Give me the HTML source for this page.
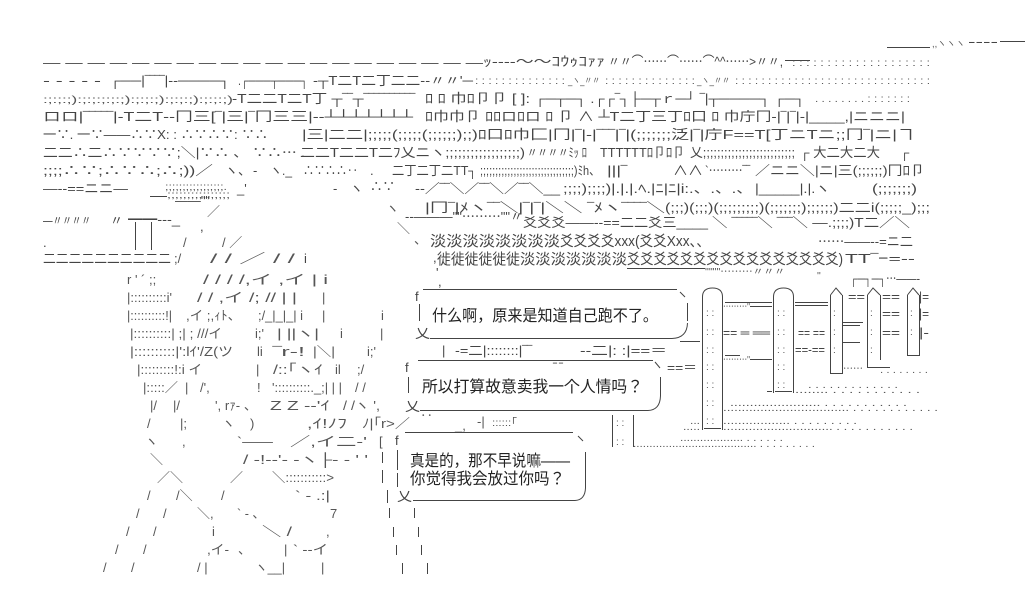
<!DOCTYPE html>
<html><head><meta charset="utf-8">
<style>
html,body{margin:0;padding:0;background:#fff;}
svg{display:block}
text{font-family:"Liberation Sans","Noto Sans CJK JP",sans-serif;font-size:13px;fill:#444;}
.d{font-size:10px;fill:#555}
.c{font-size:15px}
.b{font-size:16px;fill:#222}
.f{fill:#555}
path{stroke:#444;stroke-width:1;fill:none}
</style></head><body>
<svg width="1036" height="604" viewBox="0 0 1036 604" xmlns="http://www.w3.org/2000/svg">
<rect width="1036" height="604" fill="#fff" style="stroke:none"/>

<!-- row 0 -->
<path d="M887 47.5H930M1000 41.5H1025"/>
<text x="932" y="47" textLength="33" lengthAdjust="spacingAndGlyphs" class="d">,,ヽヽヽ</text>
<text x="968" y="46" textLength="30" lengthAdjust="spacingAndGlyphs">‐‐‐‐</text>

<!-- row 1 -->
<text x="43" y="67" textLength="440" lengthAdjust="spacingAndGlyphs">— — — — — — — — — — — — — — — — — — — —</text>
<text x="483" y="66" textLength="122" lengthAdjust="spacingAndGlyphs">ｯ‐‐‐‐～～ｺｳｩｺｧｧ</text>
<text x="608" y="66" textLength="175" lengthAdjust="spacingAndGlyphs">〃〃⌒⋯⋯⌒⋯⋯⌒^^⋯⋯&gt;〃〃,</text>
<path d="M785 60.5H810"/>
<text x="792" y="66" textLength="138" lengthAdjust="spacingAndGlyphs" class="d">: : : : : : : : : : : : : : : : : : : :</text>

<!-- row 2 -->
<text x="43" y="85" textLength="58" lengthAdjust="spacingAndGlyphs">- - - - -</text>
<text x="110" y="85" textLength="120" lengthAdjust="spacingAndGlyphs">┌──|‾‾‾‾|‐‐────┐</text>
<text x="238" y="85" textLength="70" lengthAdjust="spacingAndGlyphs">.┌───┬───┐</text>
<text x="313" y="85" textLength="160" lengthAdjust="spacingAndGlyphs">‐┬T二T二丁二二‐‐〃〃'─</text>
<text x="475" y="84" textLength="90" lengthAdjust="spacingAndGlyphs" class="d">: : : : : : : : : : : : : :</text>
<text x="568" y="84" textLength="32" lengthAdjust="spacingAndGlyphs" class="d">_ヽ_〃〃</text>
<text x="605" y="84" textLength="90" lengthAdjust="spacingAndGlyphs" class="d">: : : : : : : : : : : : : :</text>
<text x="697" y="84" textLength="33" lengthAdjust="spacingAndGlyphs" class="d">_ヽ_〃〃</text>
<text x="735" y="84" textLength="195" lengthAdjust="spacingAndGlyphs" class="d">: : : : : : : : : : : : : : : : : : : : : : : : : : : : : :</text>

<!-- row 3 -->
<text x="43" y="103" textLength="190" lengthAdjust="spacingAndGlyphs" class="d">:;:;:;):;:;:;:;:;):;:;:;):;:;:;):;:;:;)</text>
<text x="232" y="103" textLength="183" lengthAdjust="spacingAndGlyphs">‐T二二T二T丁 ┬‾‾┬‾‾‾‾‾‾‾‾‾‾</text>
<text x="425" y="103" textLength="105" lengthAdjust="spacingAndGlyphs">ﾛ ﾛ 巾ﾛ卩卩 [ ]:</text>
<text x="535" y="103" textLength="270" lengthAdjust="spacingAndGlyphs">┌─┬─┐ .┌┌‾┐├─┬ｒ─┘  ‾|┬────┐ ┌─┐</text>
<text x="815" y="102" textLength="95" lengthAdjust="spacingAndGlyphs" class="d">. . . . . . . . : : : : : : :</text>

<!-- row 4 -->
<text x="43" y="121" textLength="370" lengthAdjust="spacingAndGlyphs">ロロ|‾‾‾‾‾|‐T二T‐‐冂三[‾|三|‾冂三三|‐‐┴┴┴┴┴┴┴</text>
<text x="425" y="121" textLength="480" lengthAdjust="spacingAndGlyphs">ﾛ巾巾卩 ﾛﾛロﾛロ ﾛ 卩 ∧ ┴T二丁三丁ﾛ口 ﾛ 巾庁冂‐|‾|‾|‐|____,|ニニニ|</text>

<!-- row 5 -->
<text x="43" y="139" textLength="225" lengthAdjust="spacingAndGlyphs">一∵. 一∵——∴∵X: : ∴∵∴∵: ∵∴</text>
<text x="302" y="139" textLength="228" lengthAdjust="spacingAndGlyphs">|三|二二|;;;;;(;;;;;(;;;;;;);;)ﾛ口ﾛ巾</text>
<text x="530" y="139" textLength="385" lengthAdjust="spacingAndGlyphs">匚|冂|‾|‐|‾‾‾|‾|(;;;;;;;泛|‾|庁F==T[丁ニTニ;;冂‾|ニ|ヿ</text>

<!-- row 6 -->
<text x="43" y="157" textLength="262" lengthAdjust="spacingAndGlyphs">二二∴二∴∵∵∵∵;＼|∵∴ 、  ∵∴⋯ .</text>
<text x="300" y="157" textLength="225" lengthAdjust="spacingAndGlyphs">二二T二二T二ﾌ乂ニヽ;;;;;;;;;;;;;;;;;;)</text>
<text x="527" y="157" textLength="60" lengthAdjust="spacingAndGlyphs">〃〃〃〃ﾐｯ ﾛ</text>
<text x="600" y="157" textLength="85" lengthAdjust="spacingAndGlyphs">TTTTTTﾛ卩ﾛ卩</text>
<text x="690" y="157" textLength="105" lengthAdjust="spacingAndGlyphs">乂;;;;;;;;;;;;;;;;;;;;;;;;;;</text>
<text x="800" y="157" textLength="80" lengthAdjust="spacingAndGlyphs">┌ 大二大二大</text>
<text x="900" y="157">┌</text>

<!-- row 7 -->
<text x="43" y="175" textLength="170" lengthAdjust="spacingAndGlyphs">;;;;∴∵;∴∵∴;∴;))／</text>
<text x="225" y="175">ヽ、</text>
<text x="253" y="175">‐</text>
<text x="270" y="175" textLength="22" lengthAdjust="spacingAndGlyphs">ヽ._</text>
<text x="303" y="175" textLength="55" lengthAdjust="spacingAndGlyphs">∴∵∴∴‥</text>
<text x="370" y="175">.</text>
<text x="392" y="175" textLength="85" lengthAdjust="spacingAndGlyphs">二丁二丁二TT┐</text>
<text x="480" y="175" textLength="120" lengthAdjust="spacingAndGlyphs">;;;;;;;;;;;;;;;;;;;;;;;;;;;;;;;)ﾐh、</text>
<text x="607" y="175" textLength="20" lengthAdjust="spacingAndGlyphs">|||‾</text>
<text x="673" y="175" textLength="30" lengthAdjust="spacingAndGlyphs">∧∧</text>
<text x="705" y="175" textLength="45" lengthAdjust="spacingAndGlyphs">`⋯⋯⋯‾‾</text>
<text x="755" y="175" textLength="170" lengthAdjust="spacingAndGlyphs">／ニニ＼|ニ|三(;;;;;;)冂ﾛ卩</text>

<!-- row 8 -->
<text x="43" y="193" textLength="85" lengthAdjust="spacingAndGlyphs">—‐‐==ニニ—</text>
<text x="165" y="190" textLength="62" lengthAdjust="spacingAndGlyphs" class="d">;;;;;;;;;;;;;;;;;.</text>
<text x="237" y="193">_'</text>
<text x="333" y="193">‐</text>
<text x="350" y="193">ヽ</text>
<text x="370" y="191" textLength="25" lengthAdjust="spacingAndGlyphs">∴∵</text>
<text x="415" y="193" textLength="145" lengthAdjust="spacingAndGlyphs">‐‐／‾‾＼／‾‾＼／‾‾＼__</text>
<text x="563" y="193" textLength="190" lengthAdjust="spacingAndGlyphs">;;;;);;;;)|.|.|.ﾍ.|ﾆ|ﾆ|i:.、.、.、</text>
<text x="755" y="193" textLength="75" lengthAdjust="spacingAndGlyphs">|_____|.|.ヽ</text>
<text x="872" y="193" textLength="45" lengthAdjust="spacingAndGlyphs">(;;;;;;;)</text>

<!-- row 8.5 -->
<path d="M150 196.5H167"/>
<text x="167" y="198" textLength="63" lengthAdjust="spacingAndGlyphs" class="d">;;;;;;;;;;;;;;;;</text>
<text x="175" y="205" textLength="35" lengthAdjust="spacingAndGlyphs">——""</text>

<!-- row 9 -->
<text x="207" y="216" class="f">／</text>
<text x="425" y="212" textLength="240" lengthAdjust="spacingAndGlyphs">|冂‾|ﾒヽ‾‾＼|‾|‾|＼＼  ‾ﾒヽ‾‾‾‾＼</text>
<text x="665" y="212" textLength="265" lengthAdjust="spacingAndGlyphs">(;;;)(;;;)(;;;;;;;;;)(;;;;;;;);;;;;;)二二i(;;;;;_);;;</text>

<!-- row 10 -->
<text x="43" y="225" textLength="48" lengthAdjust="spacingAndGlyphs">—〃〃〃〃</text>
<text x="110" y="225">〃</text>
<text x="128" y="224" textLength="52" lengthAdjust="spacingAndGlyphs">━━‐‐‐_</text>
<text x="200" y="231">,</text>
<text x="386" y="213" class="f">ヽ</text>
<text x="397" y="233" class="f">＼</text>
<text x="414" y="244" class="f">、</text>
<text x="433" y="262">,</text>
<text x="436" y="277">'</text>
<text x="438" y="286">,</text>
<text x="405" y="221" textLength="118" lengthAdjust="spacingAndGlyphs">‐‐———""⋯⋯⋯""〃</text>
<text x="523" y="227" textLength="185" lengthAdjust="spacingAndGlyphs">爻爻爻——‐‐==二二爻三____</text>
<text x="712" y="227" textLength="198" lengthAdjust="spacingAndGlyphs">＼ ‾‾‾‾‾＼ ‾‾‾＼ —.;;;;)T二／＼</text>

<!-- row 11 -->
<path d="M135.5 222V250M151.5 222V250"/>
<text x="43" y="247">.</text>
<text x="183" y="247" class="f">/</text>
<text x="222" y="247" class="f">/ ／</text>
<text x="430" y="246" textLength="130" lengthAdjust="spacingAndGlyphs" class="c">淡淡淡淡淡淡淡淡</text>
<text x="560" y="246" textLength="150" lengthAdjust="spacingAndGlyphs" class="c">爻爻爻爻xxx(爻爻Xxx、、</text>
<text x="818" y="246" textLength="95" lengthAdjust="spacingAndGlyphs">⋯⋯——‐‐=ニ二</text>

<!-- row 12 -->
<text x="43" y="263" textLength="128" lengthAdjust="spacingAndGlyphs">二二二二二二二二二二</text>
<text x="174" y="263" class="f">;/</text>
<text x="210" y="263" textLength="85" lengthAdjust="spacingAndGlyphs" class="f">/  / ／ / /</text>
<text x="304" y="263">i</text>
<text x="437" y="264" textLength="83" lengthAdjust="spacingAndGlyphs" class="c">徙徙徙徙徙徙</text>
<text x="520" y="264" textLength="107" lengthAdjust="spacingAndGlyphs" class="c">淡淡淡淡淡淡淡</text>
<text x="627" y="264" textLength="216" lengthAdjust="spacingAndGlyphs" class="c">爻爻爻爻爻爻爻爻爻爻爻爻爻爻爻爻)</text>
<text x="845" y="263" textLength="70" lengthAdjust="spacingAndGlyphs">TT‾ｰ=‐‐</text>
<path d="M627 268.5H705"/>
<text x="705" y="275" textLength="80" lengthAdjust="spacingAndGlyphs" class="d">""""⋯⋯⋯〃〃〃</text>
<text x="817" y="279" class="d">''</text>
<text x="850" y="283" textLength="70" lengthAdjust="spacingAndGlyphs">┌─┐─┐⋯——‐</text>

<!-- figure rows -->
<g class="f">
<text x="127" y="284" class="f">r  '  ´  ;;</text>
<text x="203" y="284" textLength="125" lengthAdjust="spacingAndGlyphs" class="f">/ /   / /,イ ,イ   |   i</text>

<text x="127" y="302" textLength="45" lengthAdjust="spacingAndGlyphs" class="f">|::::::::::i'</text>
<text x="197" y="302" textLength="100" lengthAdjust="spacingAndGlyphs" class="f">/ / ,イ /; // |  |</text>
<text x="322" y="302" class="f">|</text>

<text x="127" y="320" textLength="45" lengthAdjust="spacingAndGlyphs" class="f">|::::::::::!|</text>
<text x="186" y="320" textLength="55" lengthAdjust="spacingAndGlyphs" class="f">,イ ;,ｨﾄ、</text>
<text x="258" y="320" textLength="45" lengthAdjust="spacingAndGlyphs" class="f">;/_|_|_| i</text>
<text x="322" y="320" class="f">|</text>
<text x="381" y="320" class="f">i</text>

<text x="130" y="338" textLength="92" lengthAdjust="spacingAndGlyphs" class="f">|::::::::::| ;| ; ///イ</text>
<text x="255" y="338" class="f">i;'</text>
<text x="277" y="338" textLength="42" lengthAdjust="spacingAndGlyphs" class="f">| ||ヽ|</text>
<text x="340" y="338" class="f">i</text>
<text x="380" y="338" class="f">|</text>

<text x="130" y="356" textLength="103" lengthAdjust="spacingAndGlyphs" class="f">|::::::::::|':lｲ'/Z(ツ</text>
<text x="257" y="356" class="f">li</text>
<text x="273" y="356" textLength="32" lengthAdjust="spacingAndGlyphs" class="f">‾r‐!</text>
<text x="313" y="356" textLength="22" lengthAdjust="spacingAndGlyphs" class="f">|＼|</text>
<text x="367" y="356" class="f">i;'</text>

<text x="137" y="374" textLength="65" lengthAdjust="spacingAndGlyphs" class="f">|:::::::::!:i イ</text>
<text x="256" y="374" class="f">|</text>
<text x="273" y="374" textLength="50" lengthAdjust="spacingAndGlyphs" class="f">/::｢ヽｲ</text>
<text x="335" y="374" class="f">il</text>
<text x="357" y="374" class="f">;/</text>

<text x="143" y="392" textLength="35" lengthAdjust="spacingAndGlyphs" class="f">|:::::／</text>
<text x="185" y="392" class="f">|</text>
<text x="200" y="392" class="f">/',</text>
<text x="257" y="392" class="f">!</text>
<text x="272" y="392" textLength="70" lengthAdjust="spacingAndGlyphs" class="f">'::::::::::._;| | |</text>
<text x="355" y="392" class="f">/ /</text>

<text x="150" y="410" class="f">|/</text>
<text x="173" y="410" class="f">|/</text>
<text x="215" y="410" textLength="42" lengthAdjust="spacingAndGlyphs" class="f">', rｧ‐ 、</text>
<text x="270" y="410" textLength="60" lengthAdjust="spacingAndGlyphs" class="f">Z Z ‐‐'ｲ</text>
<text x="343" y="410" textLength="37" lengthAdjust="spacingAndGlyphs" class="f">/ /ヽ ',</text>

<text x="147" y="428" class="f">/</text>
<text x="180" y="428" class="f">|;</text>
<text x="222" y="428" class="f">ヽ</text>
<text x="250" y="428" class="f">)</text>
<text x="307" y="428" textLength="40" lengthAdjust="spacingAndGlyphs" class="f">,ｲ!ﾉﾌ</text>
<text x="362" y="428" textLength="48" lengthAdjust="spacingAndGlyphs" class="f">ﾉ|｢r&gt;／</text>
<text x="420" y="420" class="f">‥</text>
<text x="455" y="430" class="f">_,</text>
<text x="477" y="426" class="f">‐|</text>
<text x="492" y="426" textLength="25" lengthAdjust="spacingAndGlyphs" class="d">::::::｢</text>

<text x="145" y="446" class="f">ヽ</text>
<text x="182" y="446" class="f">,</text>
<text x="237" y="446" textLength="36" lengthAdjust="spacingAndGlyphs" class="f">`——</text>
<text x="290" y="446" textLength="77" lengthAdjust="spacingAndGlyphs" class="f">／,イ二‐'</text>
<text x="379" y="446" class="f">[</text>

<text x="150" y="464" class="f">＼</text>
<text x="243" y="464" textLength="125" lengthAdjust="spacingAndGlyphs" class="f">/ ‐!‐‐'‐ ‐ヽ├‐ ‐ ' '</text>

<text x="157" y="482" class="f">／＼</text>
<text x="230" y="482" class="f">／</text>
<text x="272" y="482" textLength="62" lengthAdjust="spacingAndGlyphs" class="f">＼:::::::::::&gt;</text>

<text x="147" y="500" class="f">/</text>
<text x="176" y="500" class="f">/＼</text>
<text x="221" y="500" class="f">/</text>
<text x="295" y="500" textLength="35" lengthAdjust="spacingAndGlyphs" class="f">` ‐ .:|</text>

<text x="136" y="518" class="f">/</text>
<text x="163" y="518" class="f">/</text>
<text x="197" y="518" class="f">＼,</text>
<text x="237" y="518" textLength="28" lengthAdjust="spacingAndGlyphs" class="f">` ‐ 、</text>
<text x="330" y="518" class="f">7</text>

<text x="126" y="536" class="f">/</text>
<text x="153" y="536" class="f">/</text>
<text x="212" y="536" class="f">i</text>
<text x="262" y="536" textLength="30" lengthAdjust="spacingAndGlyphs" class="f">＼  /</text>
<text x="326" y="536" class="f">,</text>

<text x="115" y="554" class="f">/</text>
<text x="143" y="554" class="f">/</text>
<text x="207" y="554" textLength="22" lengthAdjust="spacingAndGlyphs" class="f">,イ‐</text>
<text x="238" y="554" class="f">、</text>
<text x="284" y="554" class="f">|</text>
<text x="293" y="554" textLength="35" lengthAdjust="spacingAndGlyphs" class="f">` ‐‐イ</text>

<text x="103" y="572" class="f">/</text>
<text x="131" y="572" class="f">/</text>
<text x="197" y="572" class="f">/  |</text>
<text x="255" y="572" textLength="30" lengthAdjust="spacingAndGlyphs" class="f">ヽ__|</text>
<text x="321" y="572" class="f">|</text>
</g>

<path d="M382.5 452V463M382.5 470V483M387.5 490V503M389.5 508V518M414.5 508V518M393.5 527V537M418.5 527V537M396.5 545V555M421.5 545V555M402.5 563V574M427.5 563V574"/>

<!-- bubble 1 -->
<path d="M423 289.5H677M680 292L685 297M419.5 304V321M687.5 303V321M430 338.5H672Q687 338 687.5 323"/>
<text x="415" y="301">f</text>
<text x="415" y="338" textLength="15" lengthAdjust="spacingAndGlyphs">乂</text>
<text class="b" x="432" y="321" textLength="226" lengthAdjust="spacingAndGlyphs">什么啊，原来是知道自己跑不了。</text>

<!-- between 1 & 2 -->
<text x="442" y="355">|</text>
<text x="455" y="355" textLength="77" lengthAdjust="spacingAndGlyphs">‐=二|::::::::|‾‾</text>
<text x="553" y="361" textLength="10" lengthAdjust="spacingAndGlyphs">_ _</text>
<text x="580" y="355" textLength="87" lengthAdjust="spacingAndGlyphs">‐‐二|: :|==＝</text>
<text x="667" y="372" textLength="30" lengthAdjust="spacingAndGlyphs">==＝</text>
<path d="M680 341.5H700"/>

<!-- bubble 2 -->
<path d="M418 360.5H653M655 362L660 368M408.5 377V393M660.5 377V396M420 410.5H648Q660 410 660.5 396"/>
<text x="405" y="372">f</text>
<text x="405" y="411" textLength="15" lengthAdjust="spacingAndGlyphs">乂</text>
<text class="b" x="422" y="392" textLength="221" lengthAdjust="spacingAndGlyphs">所以打算故意卖我一个人情吗？</text>

<!-- bubble 3 -->
<path d="M405 432.5H573M578 436L583 441M397.5 450V470M397.5 473V487M585.5 452V488M413 500.5H575Q585 500 585.5 488"/>
<text x="395" y="445">f</text>
<text x="397" y="501" textLength="15" lengthAdjust="spacingAndGlyphs">乂</text>
<text class="b" x="410" y="466" textLength="160" lengthAdjust="spacingAndGlyphs">真是的，那不早说嘛——</text>
<text class="b" x="410" y="484" textLength="155" lengthAdjust="spacingAndGlyphs">你觉得我会放过你吗？</text>

<!-- pillars -->
<path d="M702.5 297Q702.5 288 712.5 288Q722.5 288 722.5 297M702.5 297V430M722.5 297V430M704 428.5H721"/>
<path d="M773.5 297Q773.5 288 783.5 288Q793.5 288 793.5 297M773.5 297V393M793.5 297V393M775 391.5H792M767 391.5H772"/>
<path d="M830.5 295L836 288L842 295M830.5 295V374M842.5 295V374M831 373.5H842"/>
<path d="M867.5 295L873 288L880 295M867.5 295V368M880.5 295V360M867 367.5H890"/>
<path d="M907.5 295L913 288L919 295M907.5 295V356M919.5 295V356M908 355.5H919"/>
<path d="M612.5 415V447M633.5 415V447"/>

<g>
<text x="706" y="316" class="d">: :</text><text x="706" y="335" class="d">: :</text><text x="706" y="353" class="d">: :</text><text x="706" y="370" class="d">: :</text><text x="706" y="388" class="d">: :</text><text x="706" y="406" class="d">: :</text><text x="706" y="424" class="d">: :</text>
<text x="777" y="316" class="d">: :</text><text x="777" y="335" class="d">: :</text><text x="777" y="353" class="d">: :</text><text x="777" y="370" class="d">: :</text><text x="777" y="388" class="d">: :</text>
<text x="833" y="316" class="d">:</text><text x="833" y="335" class="d">:</text><text x="833" y="353" class="d">:</text>
<text x="870" y="316" class="d">:</text><text x="870" y="335" class="d">:</text><text x="870" y="353" class="d">:</text>
<text x="910" y="316" class="d">:</text><text x="910" y="335" class="d">:</text>
<text x="616" y="426" class="d">: :</text><text x="616" y="445" class="d">: :</text>
</g>

<!-- between pillars -->
<path d="M725 302.5H772M750 306.5H772M725 355.5H740M750 359.5H772M795 302.5H828M795 305.5H828M843 322.5H863M843 325.5H860M843 342.5H860"/>
<text x="723" y="310" textLength="27" lengthAdjust="spacingAndGlyphs" class="d">⋯⋯⋯"</text>
<text x="723" y="337" textLength="47" lengthAdjust="spacingAndGlyphs">== ═ ══</text>
<text x="723" y="363" textLength="27" lengthAdjust="spacingAndGlyphs" class="d">⋯⋯⋯"</text>
<text x="798" y="337" textLength="27" lengthAdjust="spacingAndGlyphs">== ==</text>
<text x="795" y="354" textLength="30" lengthAdjust="spacingAndGlyphs">==‐==</text>
<text x="848" y="301" textLength="17" lengthAdjust="spacingAndGlyphs">==</text>
<text x="882" y="301" textLength="18" lengthAdjust="spacingAndGlyphs">==</text>
<text x="882" y="318" textLength="18" lengthAdjust="spacingAndGlyphs">==</text>
<text x="882" y="337" textLength="18" lengthAdjust="spacingAndGlyphs">==</text>
<text x="919" y="301" textLength="10" lengthAdjust="spacingAndGlyphs">|=</text>
<text x="919" y="318" textLength="10" lengthAdjust="spacingAndGlyphs">|=</text>
<text x="919" y="337" textLength="10" lengthAdjust="spacingAndGlyphs">|‐</text>

<!-- dots -->
<text x="843" y="372" textLength="20" lengthAdjust="spacingAndGlyphs" class="d">⋯⋯</text>
<text x="880" y="373" textLength="48" lengthAdjust="spacingAndGlyphs" class="d">. . . . . . . .</text>
<text x="808" y="388" textLength="90" lengthAdjust="spacingAndGlyphs" class="d">. . . . . . . . . . . . .</text>
<text x="795" y="393" textLength="125" lengthAdjust="spacingAndGlyphs" class="d">........ . . . . . . . . . . .</text>
<text x="730" y="406" textLength="177" lengthAdjust="spacingAndGlyphs" class="d">....................... . . . . . . . . . . .</text>
<text x="723" y="411" textLength="215" lengthAdjust="spacingAndGlyphs" class="d">.................................. . . . . . . . . . . . .</text>
<text x="690" y="424" textLength="10" lengthAdjust="spacingAndGlyphs" class="d">...</text>
<text x="723" y="424" textLength="134" lengthAdjust="spacingAndGlyphs" class="d">.................. . . . . . . . . .</text>
<text x="683" y="430" textLength="17" lengthAdjust="spacingAndGlyphs" class="d">.....</text>
<text x="723" y="430" textLength="190" lengthAdjust="spacingAndGlyphs" class="d">.............................. . . . . . . . . . . .</text>
<text x="680" y="441" textLength="103" lengthAdjust="spacingAndGlyphs" class="d">................... . . . . . .</text>
<text x="633" y="447" textLength="182" lengthAdjust="spacingAndGlyphs" class="d">...................................... . . . . . . . . .</text>
</svg></body></html>
